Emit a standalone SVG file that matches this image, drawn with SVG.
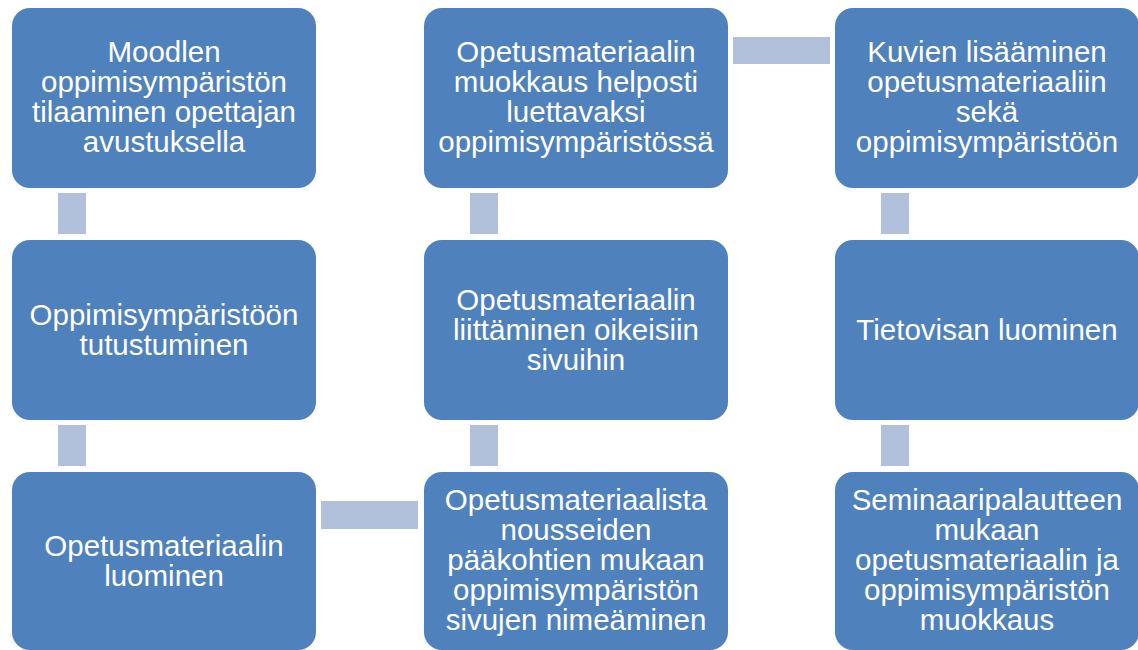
<svg xmlns="http://www.w3.org/2000/svg" width="1138" height="650" viewBox="0 0 1138 650">
<style>
.box{fill:#4F81BD}
.con{fill:#B2C1DB}
.t{font-family:"Liberation Sans",Arial,sans-serif;font-size:29.5px;fill:#FFFFFF;text-anchor:middle}
</style>
<rect width="1138" height="650" fill="#FFFFFF"/>
<g id="connectors">
<rect class="con" x="58" y="193" width="28" height="41"/>
<rect class="con" x="58" y="425" width="28" height="41"/>
<rect class="con" x="321" y="501" width="97" height="28"/>
<rect class="con" x="470" y="425" width="28" height="41"/>
<rect class="con" x="470" y="193" width="28" height="41"/>
<rect class="con" x="733" y="37" width="97" height="27"/>
<rect class="con" x="881" y="193" width="28" height="41"/>
<rect class="con" x="881" y="425" width="28" height="41"/>
</g>
<g id="n1">
<rect class="box" x="12" y="8" width="304" height="180" rx="18"/>
<text class="t" x="164" y="62">Moodlen</text>
<text class="t" x="164" y="92">oppimisympäristön</text>
<text class="t" x="164" y="122">tilaaminen opettajan</text>
<text class="t" x="164" y="152">avustuksella</text>
</g>
<g id="n2">
<rect class="box" x="12" y="240" width="304" height="180" rx="18"/>
<text class="t" x="164" y="325">Oppimisympäristöön</text>
<text class="t" x="164" y="355">tutustuminen</text>
</g>
<g id="n3">
<rect class="box" x="12" y="472" width="304" height="178" rx="18"/>
<text class="t" x="164" y="556">Opetusmateriaalin</text>
<text class="t" x="164" y="586">luominen</text>
</g>
<g id="n4">
<rect class="box" x="424" y="472" width="304" height="178" rx="18"/>
<text class="t" x="576" y="510">Opetusmateriaalista</text>
<text class="t" x="576" y="540">nousseiden</text>
<text class="t" x="576" y="570">pääkohtien mukaan</text>
<text class="t" x="576" y="600">oppimisympäristön</text>
<text class="t" x="576" y="630">sivujen nimeäminen</text>
</g>
<g id="n5">
<rect class="box" x="424" y="240" width="304" height="180" rx="18"/>
<text class="t" x="576" y="310">Opetusmateriaalin</text>
<text class="t" x="576" y="340">liittäminen oikeisiin</text>
<text class="t" x="576" y="370">sivuihin</text>
</g>
<g id="n6">
<rect class="box" x="424" y="8" width="304" height="180" rx="18"/>
<text class="t" x="576" y="62">Opetusmateriaalin</text>
<text class="t" x="576" y="92">muokkaus helposti</text>
<text class="t" x="576" y="122">luettavaksi</text>
<text class="t" x="576" y="152">oppimisympäristössä</text>
</g>
<g id="n7">
<rect class="box" x="835" y="8" width="304" height="180" rx="18"/>
<text class="t" x="987" y="62">Kuvien lisääminen</text>
<text class="t" x="987" y="92">opetusmateriaaliin</text>
<text class="t" x="987" y="122">sekä</text>
<text class="t" x="987" y="152">oppimisympäristöön</text>
</g>
<g id="n8">
<rect class="box" x="835" y="240" width="304" height="180" rx="18"/>
<text class="t" x="987" y="340">Tietovisan luominen</text>
</g>
<g id="n9">
<rect class="box" x="835" y="472" width="304" height="178" rx="18"/>
<text class="t" x="987" y="510">Seminaaripalautteen</text>
<text class="t" x="987" y="540">mukaan</text>
<text class="t" x="987" y="570">opetusmateriaalin ja</text>
<text class="t" x="987" y="600">oppimisympäristön</text>
<text class="t" x="987" y="630">muokkaus</text>
</g>
</svg>
